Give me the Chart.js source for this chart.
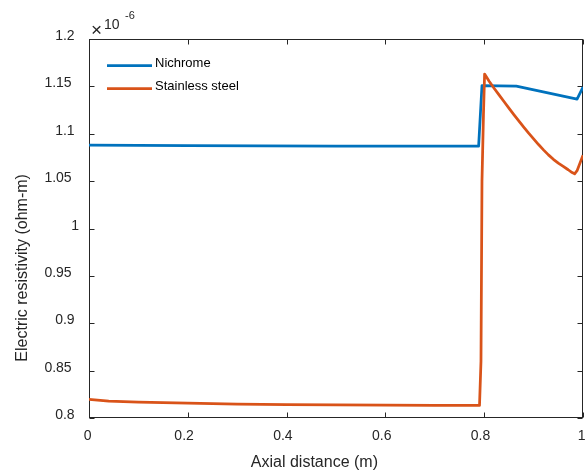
<!DOCTYPE html>
<html>
<head>
<meta charset="utf-8">
<title>Electric resistivity</title>
<script src="https://cdn.jsdelivr.net/npm/chart.js@4.4.1/dist/chart.umd.min.js"></script>
<style>
    html, body { margin: 0; padding: 0; background: #ffffff; }
</style>
</head>
<body>
<canvas id="chart" width="587" height="470"></canvas>
<script>

// Axial position (m) and resistivity (x 1e-6 ohm-m).
const nichromeX = [0, 0.2, 0.5, 0.7887, 0.7955, 0.865, 0.988, 1.0];
const nichromeY = [1.088, 1.0875, 1.087, 1.0869, 1.1509, 1.1502, 1.1366, 1.1493];

const steelX = [0, 0.04, 0.1, 0.2, 0.3, 0.4, 0.5, 0.6, 0.7, 0.7905, 0.7935, 0.7955, 0.7985, 0.8008,
                0.81, 0.82, 0.83, 0.84, 0.85, 0.86, 0.87, 0.88, 0.89, 0.90, 0.91, 0.92, 0.93, 0.94,
                0.95, 0.96, 0.97, 0.978, 0.983, 0.988, 1.0];
const steelY = [0.8196, 0.8178, 0.8168, 0.8158, 0.8146, 0.8142, 0.8139, 0.8136, 0.8134, 0.8132, 0.86, 1.05, 1.12, 1.163,
                1.1555, 1.148, 1.141, 1.134, 1.127, 1.1202, 1.1135, 1.107, 1.1006, 1.0945, 1.0886, 1.083, 1.0777, 1.073,
                1.069, 1.0655, 1.062, 1.059, 1.0577, 1.061, 1.0774];

const seriesNames  = ['Nichrome', 'Stainless steel'];
const seriesColors = ['#0072BD', '#D95319'];

const xLimits = [0, 1];
const yLimits = [0.8, 1.2];
const xStep = 0.2;
const yStep = 0.05;

const xTitle = 'Axial distance (m)';
const yTitle = 'Electric resistivity (ohm-m)';
const yExponent = '-6';

const FONT = '"Liberation Sans", Arial, Helvetica, sans-serif';
const AXIS_COLOR = '#262626';

function toPoints(xs, ys) {
    return xs.map(function(x, i) { return { x: x, y: ys[i] }; });
}

function fmt(v) {
    return String(parseFloat(v.toFixed(2)));
}

// Box, inward ticks, labels and legend drawn the old MATLAB way.
const matlabAxes = {
    id: 'matlabAxes',

    beforeDatasetsDraw: function(chart) {
        const ctx = chart.ctx, a = chart.chartArea;
        const xs = chart.scales.x, ys = chart.scales.y;
        const L = a.left + 0.5, R = a.right - 0.5, T = a.top + 0.5, B = a.bottom - 0.5;

        ctx.save();
        ctx.strokeStyle = AXIS_COLOR;
        ctx.lineWidth = 1;
        ctx.strokeRect(L, T, R - L, B - T);

        ctx.beginPath();
        xs.ticks.forEach(function(t) {
            const px = Math.round(xs.getPixelForValue(t.value)) + 0.5;
            ctx.moveTo(px, B); ctx.lineTo(px, B - 5);
            ctx.moveTo(px, T); ctx.lineTo(px, T + 5);
        });
        ys.ticks.forEach(function(t) {
            const py = Math.round(ys.getPixelForValue(t.value)) + 0.5;
            ctx.moveTo(L, py); ctx.lineTo(L + 5, py);
            ctx.moveTo(R, py); ctx.lineTo(R - 5, py);
        });
        ctx.stroke();
        ctx.restore();
    },

    afterDraw: function(chart) {
        const ctx = chart.ctx, a = chart.chartArea;
        const xs = chart.scales.x, ys = chart.scales.y;

        ctx.save();
        ctx.fillStyle = AXIS_COLOR;
        ctx.textAlign = 'left';
        ctx.textBaseline = 'alphabetic';

        // Tick labels
        ctx.font = '14px ' + FONT;
        xs.ticks.forEach(function(t) {
            const s = fmt(t.value);
            const w = ctx.measureText(s).width;
            ctx.fillText(s, xs.getPixelForValue(t.value) - w * 1.38 / 2, a.bottom + 22);
        });
        ys.ticks.forEach(function(t) {
            const s = fmt(t.value);
            const w = ctx.measureText(s).width;
            ctx.fillText(s, a.left - 7 - w * 1.38, ys.getPixelForValue(t.value) + 1);
        });

        // Exponent
        ctx.font = '19px ' + FONT;
        ctx.fillText('\u00D7', a.left + 2, a.top - 3);
        ctx.font = '14px ' + FONT;
        ctx.fillText('10', a.left + 15, a.top - 9.7);
        ctx.font = '11px ' + FONT;
        ctx.fillText(yExponent, a.left + 36, a.top - 20.5);

        // Axis titles
        ctx.font = '16px ' + FONT;
        let w = ctx.measureText(xTitle).width;
        ctx.fillText(xTitle, (a.left + a.right) / 2 - w * 1.34 / 2, a.bottom + 48.5);

        w = ctx.measureText(yTitle).width;
        ctx.translate(27, (a.top + a.bottom) / 2 + w * 0.71);
        ctx.rotate(-Math.PI / 2);
        ctx.fillText(yTitle, 0, 0);
        ctx.restore();

        // Legend
        ctx.save();
        ctx.font = '13px ' + FONT;
        ctx.fillStyle = '#000000';
        chart.data.datasets.forEach(function(ds, i) {
            const ly = a.top + 26.5 + i * 23;
            ctx.strokeStyle = ds.borderColor;
            ctx.lineWidth = 2.75;
            ctx.beginPath();
            ctx.moveTo(a.left + 18, ly);
            ctx.lineTo(a.left + 63, ly);
            ctx.stroke();
            ctx.fillText(ds.label, a.left + 66, ly + 1.5);
        });
        ctx.restore();
    }
};

const data = {
    datasets: [{
        label: seriesNames[0],
        data: toPoints(nichromeX, nichromeY),
        borderColor: seriesColors[0],
        borderWidth: 2.75,
        borderJoinStyle: 'round',
        pointRadius: 0,
        tension: 0,
        order: 2
    }, {
        label: seriesNames[1],
        data: toPoints(steelX, steelY),
        borderColor: seriesColors[1],
        borderWidth: 2.75,
        borderJoinStyle: 'round',
        pointRadius: 0,
        tension: 0,
        order: 1
    }]
};

const options = {
    responsive: false,
    devicePixelRatio: 1,
    animation: false,
    layout: {
        padding: { top: 39, right: 4, left: 0, bottom: 0 }
    },
    plugins: {
        legend: { display: false },
        tooltip: { enabled: false }
    },
    scales: {
        x: {
            type: 'linear',
            min: xLimits[0],
            max: xLimits[1],
            ticks: { stepSize: xStep, display: false },
            grid: { display: false, drawTicks: false },
            border: { display: false },
            afterFit: function(scale) { scale.height = 52; }
        },
        y: {
            type: 'linear',
            min: yLimits[0],
            max: yLimits[1],
            ticks: { stepSize: yStep, display: false },
            grid: { display: false, drawTicks: false },
            border: { display: false },
            afterFit: function(scale) { scale.width = 89; }
        }
    }
};

new Chart(document.getElementById('chart'), { type: 'line', data: data, options: options, plugins: [matlabAxes] });

</script>
</body>
</html>
